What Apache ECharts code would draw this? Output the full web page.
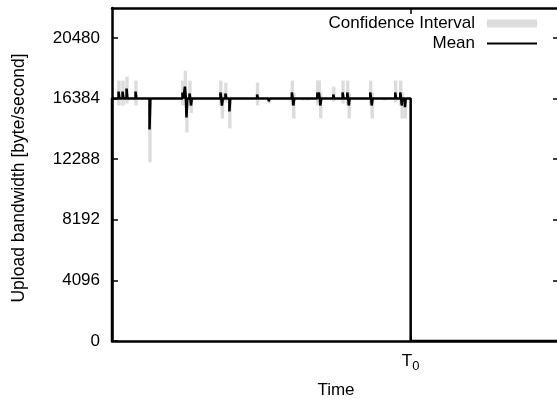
<!DOCTYPE html>
<html>
<head>
<meta charset="utf-8">
<script src="https://cdn.jsdelivr.net/npm/echarts@6/dist/echarts.min.js"></script>
<style>
html,body{margin:0;padding:0;background:#fff;}
#c{width:557px;height:399px;}
</style>
</head>
<body>
<div id="c"></div>
<script>
// ---- data ----
var baseline = 16384;           // steady mean upload bandwidth
var T0 = 100;                   // time of the T0 marker
var xMax = 150;                 // end of time axis
var yMax = 22500;
var yTicks = [0, 4096, 8192, 12288, 16384, 20480];
var xTickLabels = ['T0'];
var xTickValues = [T0];

// spikes: time, mean, CI low, CI high
var spikeTimes = [2.34, 3.68, 5.02, 8.03, 12.71, 23.75, 24.58, 25.08, 26.09, 26.59,
  36.45, 36.96, 38.13, 39.46, 48.73, 52.6, 60.37, 60.87, 63.88, 65.55,
  68.9, 69.4, 69.9, 74.25, 77.36, 78.93, 79.43, 86.62, 87.12, 91.3,
  94.98, 96.66, 97.16, 98.23];
var spikeMeans = [16855, 16855, 17057, 16855, 14293, 16788, 17192, 15102, 16720, 15911,
  16788, 15911, 16720, 15507, 16653, 16200, 16788, 15911, 16300, 16300,
  16788, 16788, 15911, 16653, 16788, 16788, 15911, 16788, 15911, 16300,
  16788, 16788, 15911, 15795];
var ciLow = [15911, 15911, 16046, 15911, 12068, 15911, 16248, 14091, 15776, 15400,
  15911, 15035, 16113, 14360, 15911, 16046, 15911, 15035, 16250, 16250,
  15911, 16000, 15035, 16180, 16046, 15911, 15035, 15911, 15035, 16250,
  16113, 15911, 15035, 15035];
var ciHigh = [17597, 17597, 17866, 17597, 16450, 17597, 18271, 16113, 17597, 16450,
  17597, 16788, 17462, 16450, 17462, 16383, 17597, 16788, 16383, 16383,
  17597, 17597, 16788, 17192, 17597, 17597, 16788, 17597, 16788, 16383,
  17597, 17597, 16788, 16450];

// ---- build series data ----
var w = 0.15;
var meanData = [[0, 0], [0, baseline]];
for (var i = 0; i < spikeTimes.length; i++) {
  var t = spikeTimes[i];
  meanData.push([t - w, baseline], [t - w, spikeMeans[i]], [t + w, spikeMeans[i]], [t + w, baseline]);
}
meanData.push([T0, baseline], [T0, 0], [xMax, 0]);
var ciData = spikeTimes.map(function (t, i) { return [t, ciLow[i], ciHigh[i]]; });

var FONT = 'Liberation Sans, Arial, Helvetica, sans-serif';
var chart = echarts.init(document.getElementById('c'), null, {renderer: 'canvas'});
var axisLineStyle = {color: '#000', width: 2.5};
chart.setOption({
  animation: false,
  backgroundColor: '#fff',
  textStyle: {fontFamily: FONT, color: '#000'},
  grid: {left: 112, top: 8, right: -3, bottom: 58, containLabel: false, outerBoundsMode: 'none'},
  legend: {
    orient: 'vertical', right: 14, top: 10, align: 'right',
    itemWidth: 50, itemHeight: 8, itemGap: 3,
    textStyle: {fontFamily: FONT, fontSize: 17, color: '#000', lineHeight: 17, padding: [0, 7, 0, 0]},
    data: [{name: 'Confidence Interval', icon: 'rect'}, {name: 'Mean', itemStyle: {opacity: 0}}]
  },
  xAxis: [{
    type: 'value', min: 0, max: xMax, position: 'bottom',
    axisLine: {show: true, onZero: false, lineStyle: axisLineStyle},
    axisTick: {show: true, inside: true, length: 6, customValues: xTickValues, lineStyle: {color: '#000', width: 1.5}},
    axisLabel: {
      customValues: xTickValues, margin: 9, color: '#000', fontFamily: FONT, fontSize: 17,
      formatter: function (v) { var s = xTickLabels[xTickValues.indexOf(v)] || ''; return '{t|' + s.charAt(0) + '}{s|' + s.slice(1) + '}'; },
      rich: {t: {fontSize: 17, fontFamily: FONT, color: '#000'}, s: {fontSize: 13, fontFamily: FONT, color: '#000', padding: [10, 0, 0, 0]}}
    },
    splitLine: {show: false},
    name: 'Time', nameLocation: 'middle', nameGap: 41,
    nameTextStyle: {fontSize: 17, fontFamily: FONT, color: '#000'}
  }, {
    type: 'value', min: 0, max: xMax, position: 'top',
    axisLine: {show: true, onZero: false, lineStyle: axisLineStyle},
    axisTick: {show: true, inside: true, length: 6, customValues: xTickValues, lineStyle: {color: '#000', width: 1.5}},
    axisLabel: {show: false}, splitLine: {show: false}
  }],
  yAxis: [{
    type: 'value', min: 0, max: yMax, position: 'left',
    axisLine: {show: true, onZero: false, lineStyle: axisLineStyle},
    axisTick: {show: true, inside: true, length: 6, customValues: yTicks, lineStyle: {color: '#000', width: 1.5}},
    axisLabel: {customValues: yTicks, margin: 12, color: '#000', fontFamily: FONT, fontSize: 17,
      formatter: function (v) { return String(v); }},
    splitLine: {show: false},
    name: 'Upload bandwidth [byte/second]', nameLocation: 'middle', nameGap: 84,
    nameTextStyle: {fontSize: 17.5, fontFamily: FONT, color: '#000', padding: [0, 7, 0, 0]}
  }, {
    type: 'value', min: 0, max: yMax, position: 'right',
    axisLine: {show: true, onZero: false, lineStyle: axisLineStyle},
    axisTick: {show: true, inside: true, length: 7, customValues: yTicks, lineStyle: {color: '#000', width: 1.5}},
    axisLabel: {show: false}, splitLine: {show: false}
  }],
  series: [{
    name: 'Confidence Interval', type: 'custom', z: 2,
    itemStyle: {color: '#dcdcdc'},
    data: ciData,
    renderItem: function (params, api) {
      var top = api.coord([api.value(0), api.value(2)]);
      var bot = api.coord([api.value(0), api.value(1)]);
      return {type: 'rect', shape: {x: top[0] - 1.7, y: top[1], width: 3.4, height: bot[1] - top[1]},
        style: {fill: '#dcdcdc'}};
    }
  }, {
    name: 'Mean', type: 'line', z: 3, symbol: 'none', showSymbol: false,
    lineStyle: {color: '#000', width: 2.5}, itemStyle: {color: '#000'},
    data: meanData
  }]
});
</script>
</body>
</html>
